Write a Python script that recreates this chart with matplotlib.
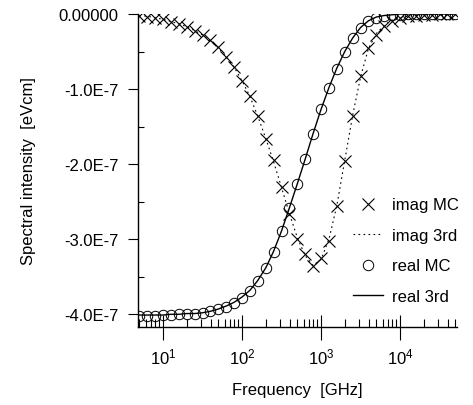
import numpy as np
import matplotlib
matplotlib.use("Agg")
import matplotlib.pyplot as plt
from matplotlib.ticker import FixedLocator, LogLocator, LogFormatterMathtext, NullFormatter

plt.rcParams["font.family"] = ["Liberation Sans", "DejaVu Sans"]
plt.rcParams["mathtext.fontset"] = "custom"
plt.rcParams["mathtext.rm"] = "Liberation Sans"
plt.rcParams["mathtext.default"] = "regular"

freq = [5.0, 6.3, 7.9, 10, 12.6, 15.8, 20, 25.1, 31.6, 39.8,
        50.1, 63.1, 79.4, 100, 126, 158, 200, 251, 316, 398,
        501, 631, 794, 1000, 1259, 1585, 1995, 2512, 3162, 3981,
        5012, 6310, 7943, 10000, 12590, 15850, 19950, 25120, 31620, 39810,
        50120]

# spectral intensity, units of 1e-7 eVcm
imag_mc = [-0.02, -0.04, -0.05, -0.07, -0.10, -0.13, -0.17, -0.22, -0.28, -0.35,
           -0.44, -0.57, -0.71, -0.89, -1.09, -1.36, -1.66, -1.95, -2.30, -2.66,
           -3.00, -3.20, -3.36, -3.25, -3.02, -2.56, -1.96, -1.36, -0.83, -0.45,
           -0.28, -0.16, -0.09, -0.05, -0.03, -0.02, -0.01, -0.01, 0.0, 0.0,
           0.0]
imag_3rd = [-0.02, -0.03, -0.05, -0.07, -0.10, -0.13, -0.17, -0.22, -0.28, -0.36,
            -0.45, -0.57, -0.71, -0.89, -1.10, -1.36, -1.66, -1.97, -2.31, -2.66,
            -2.98, -3.22, -3.35, -3.27, -3.00, -2.55, -1.95, -1.35, -0.84, -0.46,
            -0.26, -0.15, -0.08, -0.05, -0.03, -0.02, -0.01, -0.01, 0.0, 0.0,
            0.0]
real_mc = [-4.02, -4.02, -4.02, -4.01, -4.01, -4.00, -4.00, -3.99, -3.98, -3.96,
           -3.93, -3.90, -3.85, -3.78, -3.69, -3.56, -3.39, -3.17, -2.89, -2.59,
           -2.27, -1.93, -1.60, -1.27, -0.99, -0.73, -0.51, -0.32, -0.18, -0.09,
           -0.05, -0.02, -0.01, -0.01, 0.0, 0.0, 0.0, 0.0, 0.0, 0.0,
           0.0]
real_3rd = [-4.01, -4.01, -4.01, -4.01, -4.00, -4.00, -3.99, -3.99, -3.98, -3.96,
            -3.93, -3.89, -3.84, -3.77, -3.68, -3.55, -3.38, -3.16, -2.89, -2.58,
            -2.26, -1.93, -1.59, -1.27, -0.98, -0.72, -0.50, -0.32, -0.18, -0.09,
            -0.04, -0.02, -0.01, 0.0, 0.0, 0.0, 0.0, 0.0, 0.0, 0.0,
            0.0]

ytick_vals = [0.0, -1.0, -2.0, -3.0, -4.0]
ytick_labels = ["0.00000", "-1.0E-7", "-2.0E-7", "-3.0E-7", "-4.0E-7"]

scale = 1e-7
fig = plt.figure(figsize=(4.73, 4.06), dpi=100)
ax = fig.add_axes([0.292, 0.192, 0.674, 0.771])

ax.plot(freq, np.array(imag_mc) * scale, ls="none", marker="x", ms=8, mew=0.8,
        color="black", label="imag MC")
ax.plot(freq, np.array(imag_3rd) * scale, ls=(0, (1.5, 3)), lw=0.8,
        color="black", label="imag 3rd")
ax.plot(freq, np.array(real_mc) * scale, ls="none", marker="o", ms=7.5, mew=0.7,
        mfc="none", color="black", label="real MC")
ax.plot(freq, np.array(real_3rd) * scale, ls="-", lw=1.0,
        color="black", label="real 3rd")

ax.set_xscale("log")
ax.set_xlim(4.83, 52500)
ax.set_ylim(-4.17e-7, 0.0)

ax.xaxis.set_major_locator(LogLocator(base=10, numticks=10))
ax.xaxis.set_major_formatter(LogFormatterMathtext())
ax.xaxis.set_minor_locator(LogLocator(base=10, subs=np.arange(2, 10), numticks=20))
ax.xaxis.set_minor_formatter(NullFormatter())

ax.yaxis.set_major_locator(FixedLocator([v * scale for v in ytick_vals]))
ax.set_yticklabels(ytick_labels)
ax.yaxis.set_minor_locator(FixedLocator([-0.5e-7, -1.5e-7, -2.5e-7, -3.5e-7]))

ax.tick_params(axis="x", which="major", direction="inout", length=18, width=0.8,
               pad=5, labelsize=12)
ax.tick_params(axis="x", which="minor", direction="in", length=6, width=0.8)
ax.tick_params(axis="y", which="major", direction="out", length=7, width=0.8,
               pad=7, labelsize=12)
ax.tick_params(axis="y", which="minor", direction="in", length=4, width=0.8)

for side in ("top", "right"):
    ax.spines[side].set_visible(False)
for side in ("left", "bottom"):
    ax.spines[side].set_linewidth(1.0)

ax.set_xlabel("Frequency  [GHz]", fontsize=12)
ax.xaxis.label.set_va("center")
ax.xaxis.set_label_coords(0.5, -0.198)
ax.set_ylabel("Spectral intensity  [eVcm]", fontsize=12)
ax.yaxis.label.set_va("center")
ax.yaxis.set_label_coords(-0.345, 0.5)

ax.legend(loc="upper left", bbox_to_anchor=(0.675, 0.414), frameon=False,
          fontsize=12, numpoints=1, handlelength=1.8, handletextpad=0.5,
          labelspacing=0.93, borderpad=0, borderaxespad=0)

fig.savefig("out.png", dpi=100)
